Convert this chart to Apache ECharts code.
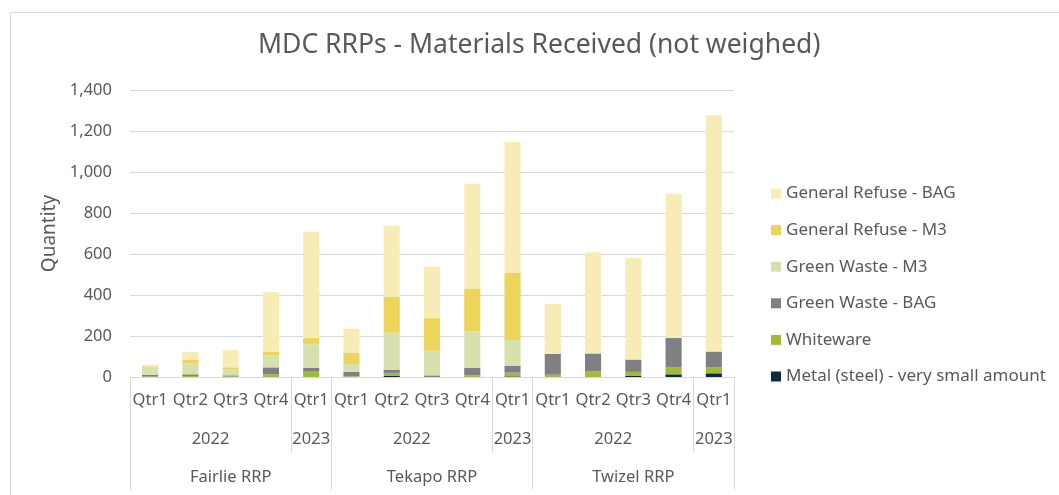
<!DOCTYPE html>
<html>
<head>
<meta charset="utf-8">
<title>MDC RRPs - Materials Received</title>
<script src="https://cdn.jsdelivr.net/npm/echarts@6/dist/echarts.min.js"></script>
<style>
    html, body { margin: 0; padding: 0; background: #fff; }
    #chart { width: 1059px; height: 495px; }
</style>
</head>
<body>
<div id="chart"></div>
<script>
// category levels (one entry per bar)
const quarters = ['Qtr1','Qtr2','Qtr3','Qtr4','Qtr1','Qtr1','Qtr2','Qtr3','Qtr4','Qtr1','Qtr1','Qtr2','Qtr3','Qtr4','Qtr1'];
const years = ['2022','2022','2022','2022','2023','2022','2022','2022','2022','2023','2022','2022','2022','2022','2023'];
const sites = ['Fairlie RRP','Fairlie RRP','Fairlie RRP','Fairlie RRP','Fairlie RRP',
               'Tekapo RRP','Tekapo RRP','Tekapo RRP','Tekapo RRP','Tekapo RRP',
               'Twizel RRP','Twizel RRP','Twizel RRP','Twizel RRP','Twizel RRP'];

// series values, stacked bottom to top
const metal      = [0, 0, 0, 0, 0,     0, 5, 0, 0, 3,        0, 0, 5, 13, 18];
const whiteware  = [2, 5, 3, 13, 26,   3, 15, 0, 8, 18,      11, 29, 20, 36, 28];
const greenBag   = [8, 8, 5, 34, 18,   23, 16, 8, 37, 33,    102, 86, 60, 141, 78];
const greenM3    = [36, 55, 28, 57, 116, 37, 180, 120, 176, 127, 0, 0, 0, 0, 0];
const refuseM3   = [6, 16, 11, 20, 31, 54, 176, 159, 211, 328, 0, 0, 0, 0, 0];
const refuseBag  = [8, 39, 86, 289, 518, 119, 346, 252, 511, 637, 244, 493, 496, 704, 1153];

const yTicks = [0, 200, 400, 600, 800, 1000, 1200, 1400];

const txt = '#595959';
const lineCol = '#d9d9d9';
const font = 'Noto Sans';

// group runs of equal labels -> [{name, start, end}]
function groupsOf(level, parent) {
    const out = [];
    level.forEach((v, i) => {
        const last = out[out.length - 1];
        if (last && last.name === v && (!parent || parent[i] === parent[last.start])) {
            last.end = i + 1;
        } else {
            out.push({ name: v, start: i, end: i + 1 });
        }
    });
    return out;
}
const yearGroups = groupsOf(years, sites);
const siteGroups = groupsOf(sites);

const siteEdges = [0].concat(siteGroups.map(g => g.end));
const yearEdges = yearGroups.map(g => g.end).filter(e => siteEdges.indexOf(e) < 0);

const yearLabelAt = {};
yearGroups.forEach(g => { yearLabelAt[(g.start + g.end) / 2] = g.name; });
const siteLabelAt = {};
siteGroups.forEach(g => { siteLabelAt[(g.start + g.end) / 2] = g.name; });

const chart = echarts.init(document.getElementById('chart'));

function bar(name, data, color) {
    return {
        name: name,
        type: 'bar',
        stack: 'total',
        barWidth: '40%',
        data: data,
        itemStyle: { color: color },
        emphasis: { disabled: true }
    };
}

chart.setOption({
    animation: false,
    textStyle: { fontFamily: font },
    title: {
        text: 'MDC RRPs - Materials Received (not weighed)',
        left: 253,
        top: 27,
        textStyle: { fontFamily: font, fontSize: 26.5, fontWeight: 'normal', color: txt }
    },
    graphic: [{
        type: 'rect',
        left: 8, top: 10,
        shape: { width: 1100, height: 520 },
        style: { fill: 'none', stroke: lineCol, lineWidth: 1 },
        silent: true
    }],
    legend: {
        orient: 'vertical',
        left: 766,
        top: 180,
        itemWidth: 10,
        itemHeight: 10,
        itemGap: 19.6,
        icon: 'rect',
        data: ['General Refuse - BAG','General Refuse - M3','Green Waste - M3','Green Waste - BAG','Whiteware','Metal (steel) - very small amount'],
        textStyle: { fontFamily: font, fontSize: 17, color: txt }
    },
    grid: { left: 130, right: 325, top: 90, bottom: 118 },
    xAxis: [{
        type: 'category',
        position: 'bottom',
        data: quarters,
        axisLine: { lineStyle: { color: lineCol } },
        axisTick: { show: false },
        axisLabel: { interval: 0, margin: 15, fontSize: 16.5, color: txt, fontFamily: font }
    }, {
        type: 'value',
        position: 'bottom',
        min: 0,
        max: quarters.length,
        axisLine: { show: false },
        splitLine: { show: false },
        axisTick: { show: true, customValues: yearEdges, length: 75, lineStyle: { color: lineCol } },
        axisLabel: {
            customValues: Object.keys(yearLabelAt).map(Number),
            formatter: v => yearLabelAt[v] || '',
            margin: 54, fontSize: 16.5, color: txt, fontFamily: font
        }
    }, {
        type: 'value',
        position: 'bottom',
        min: 0,
        max: quarters.length,
        axisLine: { show: false },
        splitLine: { show: false },
        axisTick: { show: true, customValues: siteEdges, length: 113, lineStyle: { color: lineCol } },
        axisLabel: {
            customValues: Object.keys(siteLabelAt).map(Number),
            formatter: v => siteLabelAt[v] || '',
            margin: 92, fontSize: 16.5, color: txt, fontFamily: font
        }
    }],
    yAxis: {
        type: 'value',
        min: yTicks[0],
        max: yTicks[yTicks.length - 1],
        interval: yTicks[1] - yTicks[0],
        name: 'Quantity',
        nameLocation: 'middle',
        nameGap: 70,
        nameTextStyle: { fontSize: 19, color: txt, fontFamily: font },
        axisLine: { show: false },
        axisTick: { show: false },
        axisLabel: {
            margin: 18, fontSize: 16.5, color: txt, fontFamily: font,
            formatter: v => v.toLocaleString('en-US')
        },
        splitLine: { lineStyle: { color: lineCol, width: 1 } }
    },
    series: [
        bar('Metal (steel) - very small amount', metal, '#0D2B3E'),
        bar('Whiteware', whiteware, '#9DBD3A'),
        bar('Green Waste - BAG', greenBag, '#808084'),
        bar('Green Waste - M3', greenM3, '#D6E1AE'),
        bar('General Refuse - M3', refuseM3, '#EDD45A'),
        bar('General Refuse - BAG', refuseBag, '#F8ECB6')
    ]
});
</script>
</body>
</html>
